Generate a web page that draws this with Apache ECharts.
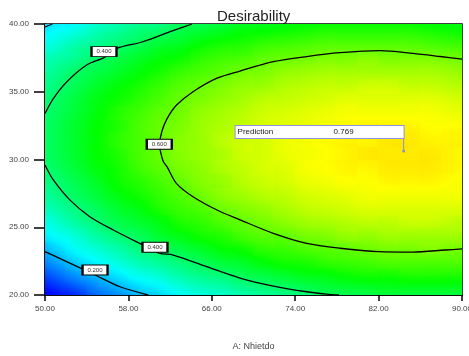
<!DOCTYPE html>
<html>
<head>
<meta charset="utf-8">
<title>Desirability</title>
<script src="https://cdn.jsdelivr.net/npm/echarts@6/dist/echarts.min.js"></script>
<style>
  html, body { margin: 0; padding: 0; background: #fff; }
  #chart { width: 469px; height: 356px; }
</style>
</head>
<body>
<div id="chart"></div>
<script>
// cell centres of the desirability map (A: Nhietdo on x, second factor on y)
const xCells = [51, 53, 55, 57, 59, 61, 63, 65, 67, 69, 71, 73, 75, 77, 79, 81, 83, 85, 87, 89];
const yCells = [20.5, 21.5, 22.5, 23.5, 24.5, 25.5, 26.5, 27.5, 28.5, 29.5,
  30.5, 31.5, 32.5, 33.5, 34.5, 35.5, 36.5, 37.5, 38.5, 39.5];
// one row per yCells entry, one value per xCells entry (estimated from the colours)
const desirability = [
  [0.04, 0.08, 0.13, 0.17, 0.21, 0.24, 0.28, 0.31, 0.33, 0.36, 0.38, 0.40, 0.42, 0.44, 0.45, 0.46, 0.47, 0.47, 0.47, 0.47],
  [0.10, 0.15, 0.19, 0.23, 0.27, 0.30, 0.34, 0.37, 0.39, 0.42, 0.44, 0.46, 0.48, 0.49, 0.51, 0.52, 0.52, 0.53, 0.53, 0.53],
  [0.16, 0.21, 0.25, 0.29, 0.33, 0.36, 0.39, 0.42, 0.45, 0.47, 0.50, 0.52, 0.53, 0.55, 0.56, 0.57, 0.58, 0.58, 0.58, 0.58],
  [0.21, 0.26, 0.30, 0.34, 0.38, 0.41, 0.44, 0.47, 0.50, 0.52, 0.55, 0.56, 0.58, 0.59, 0.60, 0.61, 0.62, 0.62, 0.63, 0.62],
  [0.26, 0.30, 0.35, 0.39, 0.42, 0.46, 0.49, 0.52, 0.54, 0.57, 0.59, 0.60, 0.62, 0.63, 0.65, 0.65, 0.66, 0.66, 0.66, 0.66],
  [0.30, 0.35, 0.39, 0.43, 0.46, 0.49, 0.53, 0.55, 0.58, 0.60, 0.62, 0.64, 0.66, 0.67, 0.68, 0.69, 0.69, 0.70, 0.70, 0.69],
  [0.34, 0.38, 0.42, 0.46, 0.49, 0.53, 0.56, 0.58, 0.61, 0.63, 0.65, 0.67, 0.69, 0.70, 0.71, 0.72, 0.72, 0.72, 0.72, 0.72],
  [0.37, 0.41, 0.45, 0.49, 0.52, 0.55, 0.58, 0.61, 0.64, 0.66, 0.68, 0.69, 0.71, 0.72, 0.73, 0.74, 0.74, 0.74, 0.74, 0.74],
  [0.39, 0.43, 0.47, 0.51, 0.54, 0.57, 0.60, 0.63, 0.65, 0.68, 0.70, 0.71, 0.73, 0.74, 0.75, 0.75, 0.76, 0.76, 0.76, 0.75],
  [0.41, 0.45, 0.49, 0.52, 0.56, 0.59, 0.62, 0.64, 0.67, 0.69, 0.71, 0.72, 0.74, 0.75, 0.76, 0.76, 0.77, 0.77, 0.77, 0.76],
  [0.42, 0.46, 0.50, 0.53, 0.57, 0.60, 0.63, 0.65, 0.67, 0.70, 0.71, 0.73, 0.74, 0.75, 0.76, 0.77, 0.77, 0.77, 0.77, 0.76],
  [0.42, 0.46, 0.50, 0.54, 0.57, 0.60, 0.63, 0.65, 0.68, 0.70, 0.71, 0.73, 0.74, 0.75, 0.76, 0.76, 0.77, 0.77, 0.76, 0.76],
  [0.42, 0.46, 0.50, 0.53, 0.57, 0.60, 0.62, 0.65, 0.67, 0.69, 0.71, 0.72, 0.73, 0.74, 0.75, 0.76, 0.76, 0.76, 0.75, 0.75],
  [0.41, 0.45, 0.49, 0.53, 0.56, 0.59, 0.61, 0.64, 0.66, 0.68, 0.70, 0.71, 0.72, 0.73, 0.74, 0.74, 0.74, 0.74, 0.74, 0.73],
  [0.40, 0.44, 0.48, 0.51, 0.54, 0.57, 0.60, 0.62, 0.64, 0.66, 0.68, 0.69, 0.70, 0.71, 0.72, 0.72, 0.72, 0.72, 0.72, 0.71],
  [0.38, 0.42, 0.46, 0.49, 0.52, 0.55, 0.58, 0.60, 0.62, 0.64, 0.65, 0.67, 0.68, 0.69, 0.69, 0.70, 0.70, 0.69, 0.69, 0.68],
  [0.36, 0.40, 0.43, 0.46, 0.49, 0.52, 0.55, 0.57, 0.59, 0.61, 0.62, 0.64, 0.65, 0.66, 0.66, 0.66, 0.66, 0.66, 0.66, 0.65],
  [0.33, 0.36, 0.40, 0.43, 0.46, 0.49, 0.51, 0.54, 0.56, 0.57, 0.59, 0.60, 0.61, 0.62, 0.62, 0.63, 0.62, 0.62, 0.62, 0.61],
  [0.29, 0.33, 0.36, 0.39, 0.42, 0.45, 0.47, 0.50, 0.52, 0.53, 0.55, 0.56, 0.57, 0.58, 0.58, 0.58, 0.58, 0.58, 0.57, 0.56],
  [0.25, 0.28, 0.32, 0.35, 0.38, 0.40, 0.43, 0.45, 0.47, 0.49, 0.50, 0.51, 0.52, 0.53, 0.53, 0.53, 0.53, 0.53, 0.52, 0.51]
];

// contour lines
const contour06 = [[90, 37.4], [87.9, 37.6], [85.3, 37.83], [82.1, 38.03], [78.3, 37.88], [75.1, 37.6],
  [71.9, 37.22], [68.7, 36.53], [66.5, 36.0], [64.2, 35.0], [62.6, 34.0], [61.7, 33.0], [61.2, 32.05],
  [61.0, 31.1], [61.05, 30.7], [61.35, 29.85], [61.7, 29.47], [62.6, 28.24], [64.2, 27.25], [66.5, 26.27],
  [68.7, 25.55], [71.9, 24.55], [75.1, 23.81], [78.3, 23.45], [82.0, 23.2], [85.3, 23.17], [88.4, 23.32], [90, 23.4]];
const contour04Upper = [[64.1, 40], [62.0, 39.43], [59.4, 38.69], [56.9, 38.2], [55.7, 37.54], [54.0, 36.97],
  [52.1, 35.74], [50.8, 34.5], [50, 33.4]];
const contour04Lower = [[50, 29.6], [50.8, 28.49], [52.4, 27.0], [54.3, 25.78], [56.55, 24.8], [59.4, 23.69],
  [61.0, 23.08], [62.3, 22.95], [65.5, 22.09], [68.7, 21.25], [71.9, 20.66], [75.1, 20.24], [77.0, 20.07], [78.2, 20]];
const contour02 = [[50, 23.2], [51.76, 22.58], [54.96, 21.42], [57.19, 20.61], [59.9, 20]];
const contour02Corner = [[50, 39.78], [50.7, 40]];

// contour label boxes: x, y, text
const contourLabels = [
  [55.66, 37.96, '0.400'],
  [60.96, 31.12, '0.600'],
  [60.55, 23.52, '0.400'],
  [54.8, 21.85, '0.200']
];

const prediction = [84.4, 30.62];
const predictionValue = '0.769';
const predictionLeader = [[84.4, 31.55], [84.4, 30.62]];

const xTicks = [50, 58, 66, 74, 82, 90];

// blue -> cyan -> green -> yellow -> red over desirability 0..1
const ramp = ['#0000ff', '#00ffff', '#00ff00', '#ffff00', '#ff0000'];

const cellW = xCells[1] - xCells[0];
const cellH = yCells[1] - yCells[0];
const cells = [];
desirability.forEach((row, i) => {
  row.forEach((v, j) => {
    cells.push([xCells[j], yCells[i], v]);
  });
});

function rampColor (v) {
  return echarts.color.lerp(Math.min(1, Math.max(0, v)), ramp);
}

// change of value per cell step, from the neighbouring cells
function stepX (i, j) {
  const row = desirability[i];
  const l = j > 0 ? row[j - 1] : row[j];
  const r = j < row.length - 1 ? row[j + 1] : row[j];
  const n = (j > 0 ? 1 : 0) + (j < row.length - 1 ? 1 : 0);
  return (r - l) / n;
}
function stepY (i, j) {
  const dn = i > 0 ? desirability[i - 1][j] : desirability[i][j];
  const up = i < desirability.length - 1 ? desirability[i + 1][j] : desirability[i][j];
  const n = (i > 0 ? 1 : 0) + (i < desirability.length - 1 ? 1 : 0);
  return (up - dn) / n;
}

const font = 'Liberation Sans, Arial, sans-serif';

function contourSeries (data) {
  return {
    type: 'line',
    data: data,
    smooth: 0.3,
    symbol: 'none',
    silent: true,
    z: 3,
    lineStyle: { color: '#000', width: 1.3 }
  };
}

const option = {
  animation: false,
  textStyle: { fontFamily: font },
  title: {
    text: 'Desirability',
    left: 212,
    top: 4,
    textStyle: { fontSize: 15, fontWeight: 'normal', color: '#222', fontFamily: font }
  },
  grid: {
    left: 45,
    right: 7,
    top: 24,
    bottom: 61,
    outerBoundsMode: 'none',
    containLabel: false,
    show: true,
    borderColor: '#000',
    borderWidth: 1.5
  },
  xAxis: {
    type: 'value',
    min: 50,
    max: 90,
    name: 'A: Nhietdo',
    nameLocation: 'middle',
    nameGap: 47,
    nameTextStyle: { fontSize: 9, color: '#444', fontFamily: font },
    splitLine: { show: false },
    axisLine: { lineStyle: { color: '#000', width: 1.5 } },
    axisTick: { show: true, customValues: xTicks, length: 6, lineStyle: { color: '#000', width: 1.5 } },
    axisLabel: {
      customValues: xTicks,
      margin: 10,
      fontSize: 8,
      color: '#444',
      formatter: (v) => v.toFixed(2)
    }
  },
  yAxis: {
    type: 'value',
    min: 20,
    max: 40,
    interval: 5,
    splitLine: { show: false },
    axisLine: { lineStyle: { color: '#000', width: 1.5 } },
    axisTick: { show: true, length: 11, lineStyle: { color: '#000', width: 1.5 } },
    axisLabel: {
      margin: 16,
      fontSize: 8,
      color: '#444',
      formatter: (v) => v.toFixed(2)
    }
  },
  series: [
    {
      type: 'custom',
      data: cells,
      clip: true,
      silent: true,
      z: 1,
      renderItem (params, api) {
        const i = Math.floor(params.dataIndex / xCells.length);
        const j = params.dataIndex % xCells.length;
        const x = api.value(0);
        const y = api.value(1);
        const v = api.value(2);
        const p0 = api.coord([x - cellW / 2, y + cellH / 2]);
        const p1 = api.coord([x + cellW / 2, y - cellH / 2]);
        const w = p1[0] - p0[0];
        const h = p1[1] - p0[1];
        // shade the cell along the local slope so neighbouring cells blend
        const a = stepX(i, j) / w;
        const b = -stepY(i, j) / h;
        const g2 = a * a + b * b;
        let fill = rampColor(v);
        if (g2 > 0) {
          const s = 0.5 * (Math.abs(a) * w + Math.abs(b) * h);
          const t = s / g2;
          const cx = (p0[0] + p1[0]) / 2;
          const cy = (p0[1] + p1[1]) / 2;
          const stops = [];
          for (let k = 0; k <= 4; k++) {
            stops.push({ offset: k / 4, color: rampColor(v - s + (2 * s * k) / 4) });
          }
          fill = {
            type: 'linear',
            global: true,
            x: cx - a * t,
            y: cy - b * t,
            x2: cx + a * t,
            y2: cy + b * t,
            colorStops: stops
          };
        }
        return {
          type: 'rect',
          shape: {
            x: Math.floor(p0[0]),
            y: Math.floor(p0[1]),
            width: Math.ceil(w) + 1,
            height: Math.ceil(h) + 1
          },
          style: { fill: fill }
        };
      }
    },
    contourSeries(contour06),
    contourSeries(contour04Upper),
    contourSeries(contour04Lower),
    contourSeries(contour02),
    contourSeries(contour02Corner),
    {
      type: 'scatter',
      data: contourLabels.map((d) => ({ value: [d[0], d[1]], name: d[2] })),
      symbol: 'rect',
      symbolSize: [25, 10],
      silent: true,
      z: 5,
      itemStyle: { color: '#fff', borderColor: '#000', borderWidth: 1.5, opacity: 1 },
      label: {
        show: true,
        position: 'inside',
        formatter: (p) => p.name,
        fontSize: 6,
        color: '#333'
      }
    },
    {
      type: 'line',
      data: predictionLeader,
      symbol: 'none',
      silent: true,
      z: 6,
      lineStyle: { color: '#8c8ce0', width: 1 }
    },
    {
      type: 'scatter',
      data: [prediction],
      symbol: 'circle',
      symbolSize: 3,
      silent: true,
      z: 7,
      itemStyle: { color: '#8c8ce0', opacity: 1 },
      label: {
        show: true,
        position: [-166.5, -23.5],
        align: 'left',
        verticalAlign: 'top',
        formatter: '{a|Prediction}{b|' + predictionValue + '}',
        backgroundColor: '#fff',
        borderColor: '#9090e0',
        borderWidth: 1,
        padding: [1, 2],
        rich: {
          a: { width: 96, fontSize: 8, lineHeight: 10, color: '#222', fontFamily: font },
          b: { width: 68, fontSize: 8, lineHeight: 10, color: '#222', fontFamily: font }
        }
      }
    }
  ]
};

const chart = echarts.init(document.getElementById('chart'));
chart.setOption(option);
window.addEventListener('resize', () => chart.resize());
</script>
</body>
</html>
